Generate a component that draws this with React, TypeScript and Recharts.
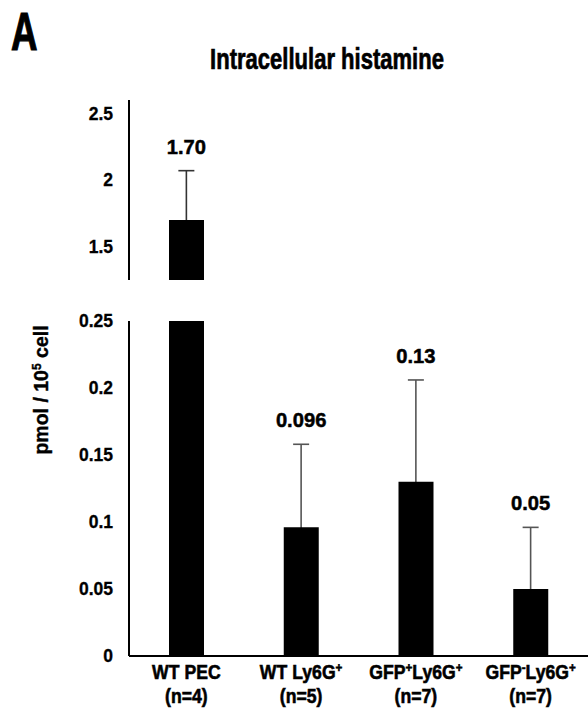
import React from 'react';
import { ComposedChart, Bar, Scatter, XAxis, YAxis, ErrorBar } from 'recharts';

const categories = ['WT PEC', 'WT Ly6G+', 'GFP+Ly6G+', 'GFP-Ly6G+'];
const sampleSizes = ['(n=4)', '(n=5)', '(n=7)', '(n=7)'];
const means = [1.7, 0.096, 0.13, 0.05];
const errors = [0.37, 0.062, 0.076, 0.046];
const valueLabels = ['1.70', '0.096', '0.13', '0.05'];
const upperTicks = [1.5, 2, 2.5];
const lowerTicks = [0, 0.05, 0.1, 0.15, 0.2, 0.25];
const upperDomain = [1.25, 2.6];
const lowerDomain = [0, 0.25];

const FONT = "'Liberation Sans', Arial, Helvetica, sans-serif";

const inUpper = (v: number) => v > lowerDomain[1];

const upperData = categories.map((name, i) => ({
  name,
  value: inUpper(means[i]) ? means[i] : null,
  err: inUpper(means[i]) ? errors[i] : null,
  top: inUpper(means[i]) ? means[i] + errors[i] : null,
  label: inUpper(means[i]) ? valueLabels[i] : null,
}));

const lowerData = categories.map((name, i) => ({
  name,
  value: means[i],
  err: inUpper(means[i]) ? null : errors[i],
  top: inUpper(means[i]) ? null : means[i] + errors[i],
  label: inUpper(means[i]) ? null : valueLabels[i],
}));

const Txt = (p: any) => {
  const { x, y, sx = 1, size, anchor = 'middle', sw = 0.4, children } = p;
  return (
    <text
      transform={`translate(${x},${y}) scale(${sx},1)`}
      textAnchor={anchor}
      fontFamily={FONT}
      fontWeight="bold"
      fontSize={size}
      fill="#000"
      stroke="#000"
      strokeWidth={sw}
    >
      {children}
    </text>
  );
};

const Empty = () => <g />;

const ValueLabel = (props: any) => {
  const { cx, cy, payload } = props;
  if (!payload || payload.label == null || cy == null || isNaN(cy)) return <g />;
  return (
    <Txt x={cx} y={cy - 17} size={21} sx={0.96} sw={0.5}>
      {payload.label}
    </Txt>
  );
};

const renderRich = (s: string, size: number) => {
  const parts: React.ReactNode[] = [];
  let buf = '';
  let k = 0;
  let shifted = false;
  const lift = Math.round(size * 0.36);
  const flush = () => {
    if (buf) {
      parts.push(
        <tspan key={k++} dy={shifted ? lift : undefined}>{buf}</tspan>
      );
      shifted = false;
      buf = '';
    }
  };
  for (const ch of s) {
    if (ch === '+' || ch === '-') {
      flush();
      parts.push(
        <tspan key={k++} fontSize={size * 0.66} dy={-lift}>{ch === '+' ? '+' : '-'}</tspan>
      );
      shifted = true;
    } else {
      buf += ch;
    }
  }
  flush();
  return parts;
};

const XTick = (props: any) => {
  const { x, y, payload } = props;
  const i = categories.indexOf(payload.value);
  return (
    <g>
      <Txt x={x} y={y + 15} size={20.5} sx={0.86} sw={0.6}>
        {renderRich(payload.value, 20.5)}
      </Txt>
      <Txt x={x} y={y + 39} size={20.5} sx={0.86} sw={0.6}>
        {sampleSizes[i]}
      </Txt>
    </g>
  );
};

const YTick = (props: any) => {
  const { x, y, payload } = props;
  return (
    <text
      x={x}
      y={y}
      dy="0.36em"
      textAnchor="end"
      fontFamily={FONT}
      fontWeight="bold"
      fontSize={17.5}
      fill="#000"
      stroke="#000"
      strokeWidth={0.3}
    >
      {String(payload.value)}
    </text>
  );
};

export default function App() {
  return (
    <div style={{ position: 'absolute', left: 0, top: 0, width: 588, height: 710, background: '#fff' }}>
      <svg width={588} height={710} style={{ position: 'absolute', left: 0, top: 0 }}>
        <Txt x={11} y={50} size={54} sx={0.68} anchor="start" sw={1.2}>A</Txt>
        <Txt x={327} y={69} size={29} sx={0.76} sw={0.7}>Intracellular histamine</Txt>
        <text
          x={0}
          y={0}
          transform="translate(48,390) rotate(-90)"
          textAnchor="middle"
          fontFamily={FONT}
          fontWeight="bold"
          fontSize={19.5}
          fill="#000"
          stroke="#000"
          strokeWidth={0.4}
        >
          pmol  / 10<tspan fontSize={12} dy={-7}>5</tspan><tspan dy={7}> cell</tspan>
        </text>
      </svg>

      <div style={{ position: 'absolute', left: 0, top: 0 }}>
        <ComposedChart width={588} height={300} data={upperData} margin={{ top: 100, right: 0, bottom: 20, left: 0 }}>
          <XAxis dataKey="name" hide />
          <YAxis
            width={129}
            domain={upperDomain}
            ticks={upperTicks}
            allowDataOverflow
            tickLine={false}
            tickSize={6}
            tickMargin={10}
            axisLine={{ stroke: '#000', strokeWidth: 2 }}
            tick={<YTick />}
          />
          <Scatter dataKey="value" shape={Empty} isAnimationActive={false} zIndex={100}>
            <ErrorBar dataKey="err" width={8} strokeWidth={1.6} stroke="#333" direction="y" zIndex={100} />
          </Scatter>
          <Bar dataKey="value" fill="#000" barSize={35} isAnimationActive={false} zIndex={900} />
          <Scatter dataKey="top" shape={ValueLabel} isAnimationActive={false} zIndex={1000} />
        </ComposedChart>
      </div>

      <div style={{ position: 'absolute', left: 0, top: 300 }}>
        <ComposedChart width={588} height={410} data={lowerData} margin={{ top: 21, right: 0, bottom: 4, left: 0 }}>
          <XAxis
            dataKey="name"
            height={50}
            tickLine={false}
            axisLine={{ stroke: '#000', strokeWidth: 2 }}
            tick={<XTick />}
            interval={0}
          />
          <YAxis
            width={129}
            domain={lowerDomain}
            ticks={lowerTicks}
            allowDataOverflow
            tickLine={false}
            tickSize={6}
            tickMargin={10}
            axisLine={{ stroke: '#000', strokeWidth: 2 }}
            tick={<YTick />}
          />
          <Scatter dataKey="value" shape={Empty} isAnimationActive={false} zIndex={100}>
            <ErrorBar dataKey="err" width={8} strokeWidth={1.6} stroke="#555" direction="y" zIndex={100} />
          </Scatter>
          <Bar dataKey="value" fill="#000" barSize={35} isAnimationActive={false} zIndex={900} />
          <Scatter dataKey="top" shape={ValueLabel} isAnimationActive={false} zIndex={1000} />
        </ComposedChart>
      </div>
    </div>
  );
}
